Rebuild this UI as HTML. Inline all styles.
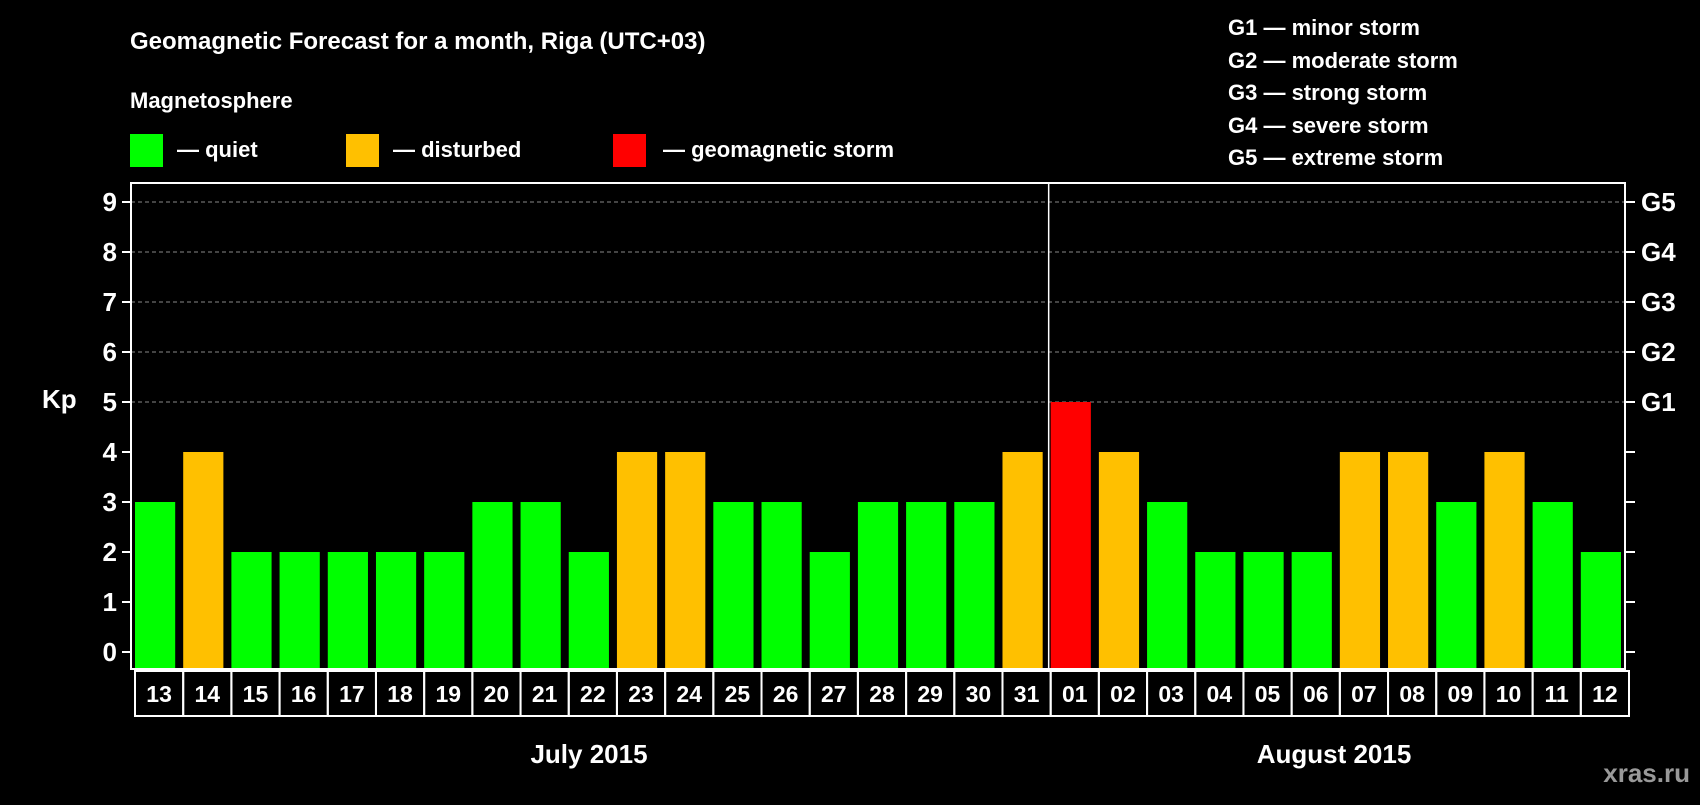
<!DOCTYPE html>
<html><head><meta charset="utf-8"><style>
body{margin:0;background:#000;width:1700px;height:800px;overflow:hidden;font-family:"Liberation Sans",Arial,sans-serif;font-weight:bold;color:#fff}
svg text{font-family:"Liberation Sans",Arial,sans-serif;font-weight:bold;fill:#fff}
</style></head><body>
<svg id="c" width="1700" height="800">
<text x="130" y="49" font-size="24">Geomagnetic Forecast for a month, Riga (UTC+03)</text>
<text x="130" y="108" font-size="22">Magnetosphere</text>
<rect x="130" y="134" width="33" height="33" fill="#00ff00"/>
<text x="177" y="157" font-size="22">— quiet</text>
<rect x="346" y="134" width="33" height="33" fill="#ffc000"/>
<text x="393" y="157" font-size="22">— disturbed</text>
<rect x="613" y="134" width="33" height="33" fill="#ff0000"/>
<text x="663" y="157" font-size="22">— geomagnetic storm</text>
<g font-size="22">
<text x="1228" y="35">G1 — minor storm</text>
<text x="1228" y="68">G2 — moderate storm</text>
<text x="1228" y="100">G3 — strong storm</text>
<text x="1228" y="133">G4 — severe storm</text>
<text x="1228" y="165">G5 — extreme storm</text>
</g>
<text x="42" y="408" font-size="26">Kp</text>
<text x="589" y="763" font-size="26" text-anchor="middle">July 2015</text>
<text x="1334" y="763" font-size="26" text-anchor="middle">August 2015</text>
<text x="1690" y="782" font-size="26" text-anchor="end" style="fill:#999">xras.ru</text>
<g id="plot"></g>
</svg>
<script>
const days=["13","14","15","16","17","18","19","20","21","22","23","24","25","26","27","28","29","30","31","01","02","03","04","05","06","07","08","09","10","11","12"];
const kp=[3,4,2,2,2,2,2,3,3,2,4,4,3,3,2,3,3,3,4,5,4,3,2,2,2,4,4,3,4,3,2];
const yTicks=[0,1,2,3,4,5,6,7,8,9];
const gLabels=["G1","G2","G3","G4","G5"];
const gLevels=[5,6,7,8,9];
const L=131,R=1625,T=183,B=669,Y0=652,U=50;
const slot=(R-L)/days.length;
const y=v=>Y0-v*U;
const x=i=>L+i*slot;
const ns="http://www.w3.org/2000/svg";
const g=document.getElementById('plot');
function mk(t,a){const e=document.createElementNS(ns,t);for(const k in a)e.setAttribute(k,a[k]);g.appendChild(e);return e;}
yTicks.forEach(v=>{
 if(v>=5){const l=mk('line',{x1:L,x2:R,y1:y(v),y2:y(v),stroke:'#888','stroke-dasharray':'4 3','stroke-width':1});
 
 }
 const t1=mk('line',{x1:L-9,x2:L,y1:y(v),y2:y(v),stroke:'#fff','stroke-width':2});
 
 
 const t2=mk('line',{x1:R,x2:R+10,y1:y(v),y2:y(v),stroke:'#fff','stroke-width':2});
 
 
 const tx=mk('text',{x:L-14,y:y(v)+9,'font-size':26,'text-anchor':'end'});tx.textContent=v;
 
 
});
gLabels.forEach((s,i)=>{
 const tx=mk('text',{x:R+16,y:y(gLevels[i])+9,'font-size':26});tx.textContent=s;
 
 
});
kp.forEach((v,i)=>{
 const c=v>=5?'#ff0000':(v>=4?'#ffc000':'#00ff00');
 const r=mk('rect',{x:x(i)+4,y:y(v),width:slot-8,height:B-1-y(v),fill:c});
 
 
 const b=mk('rect',{x:x(i)+4,y:671,width:slot,height:45,fill:'none',stroke:'#fff','stroke-width':2});
 
 
 const tx=mk('text',{x:x(i)+4+slot/2,y:702,'font-size':23,'text-anchor':'middle'});tx.textContent=days[i];
 
 
});
const f=mk('rect',{x:L,y:T,width:R-L,height:B-T,fill:'none',stroke:'#fff','stroke-width':2});


const di=days.indexOf("01");
const d=mk('line',{x1:x(di)+2,x2:x(di)+2,y1:T,y2:B,stroke:'#fff','stroke-width':1.5});


</script>
</body></html>
